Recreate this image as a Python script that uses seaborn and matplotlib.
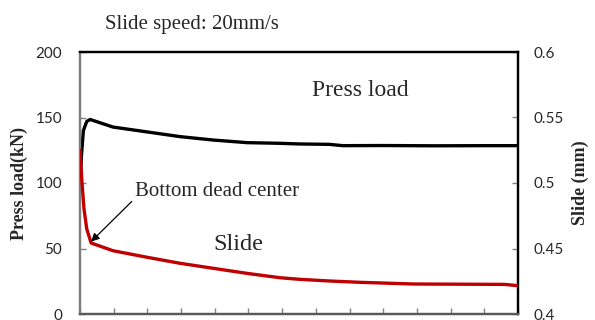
import matplotlib
matplotlib.use("Agg")
import matplotlib.pyplot as plt
import seaborn as sns
import numpy as np

sns.set_style("white")
plt.rcParams['font.family'] = ['Liberation Serif', 'DejaVu Serif']

# ---- data ----
load_x = [0.0, 0.04, 0.1, 0.2, 0.3, 0.98, 1.99, 2.97, 3.95, 4.96, 5.93, 6.5, 7.4, 7.8, 9.0, 10.5, 12.0, 13.0]
load_kN = [95, 120, 140, 147, 148.5, 142.7, 139.0, 135.4, 132.8, 130.8, 130.3, 129.8, 129.5, 128.5, 128.6, 128.4, 128.5, 128.5]

slide_x = [0.0, 0.06, 0.12, 0.2, 0.33, 0.98, 1.99, 2.97, 3.95, 4.96, 5.93, 6.5, 7.4, 8.3, 9.9, 12.6, 13.0]
slide_mm = [0.525, 0.50, 0.48, 0.465, 0.4542, 0.4483, 0.4433, 0.4387, 0.4349, 0.431, 0.4277, 0.4265, 0.4252, 0.4242, 0.4229, 0.4226, 0.4216]

left_ticks = [0, 50, 100, 150, 200]
right_ticks = [0.4, 0.45, 0.5, 0.55, 0.6]
right_labels = ["0.4", "0.45", "0.5", "0.55", "0.6"]
x_ticks = list(range(0, 14))

fig = plt.figure(figsize=(5.95, 3.2), dpi=100)
ax = fig.add_axes([80/595, 6/320, 438/595, 262/320])
ax2 = ax.twinx()

sns.lineplot(x=load_x, y=load_kN, ax=ax, color='black', linewidth=2.4, zorder=2)
sns.lineplot(x=slide_x, y=slide_mm, ax=ax2, color='#c00000', linewidth=2.4, zorder=3)

ax.set_xlim(0, 13)
ax.set_ylim(0, 200)
ax2.set_ylim(0.4, 0.6)
ax.set_xticks(x_ticks)
ax.set_yticks(left_ticks)
ax2.set_yticks(right_ticks)
ax2.set_yticklabels(right_labels)

tickfont = ['Lato', 'DejaVu Sans']
ax.tick_params(axis='x', direction='in', length=4, width=1, color='#808080', labelbottom=False, bottom=True)
ax.tick_params(axis='y', direction='in', length=4, width=1, color='#808080', pad=13, labelsize=11, left=True)
ax2.tick_params(axis='y', direction='in', length=4, width=1, color='#808080', pad=11, labelsize=11, right=True)
for lab in ax.get_yticklabels() + ax2.get_yticklabels():
    lab.set_family(tickfont)

for a in (ax, ax2):
    a.spines['left'].set_color('#7f7f7f')
    a.spines['bottom'].set_color('#595959')
    a.spines['top'].set_color('black')
    a.spines['right'].set_color('black')
    for s in a.spines.values():
        s.set_linewidth(1.6)
ax2.patch.set_visible(False)

ax.set_ylabel('Press load(kN)', fontsize=13, fontweight='bold', labelpad=5)
ax2.set_ylabel('Slide (mm)', fontsize=13, fontweight='bold', labelpad=6)
ax.set_xlabel('')

fig.text(192/595, 1 - 25/320, 'Slide speed: 20mm/s', fontsize=15, ha='center', va='center')
fig.text(312/595, 1 - 90/320, 'Press load', fontsize=17, ha='left', va='center')
fig.text(238/595, 1 - 245/320, 'Slide', fontsize=17.5, ha='center', va='center')

ax2.annotate('Bottom dead center', xy=(0.3, 0.4545), xytext=(135/595, 1 - 192/320),
             textcoords='figure fraction', fontsize=15, ha='left', va='center',
             arrowprops=dict(arrowstyle='-|>', color='black', lw=0.9,
                             mutation_scale=12, shrinkA=0, shrinkB=1,
                             relpos=(-0.02, 0.0)))

fig.savefig('out.png', dpi=100)
